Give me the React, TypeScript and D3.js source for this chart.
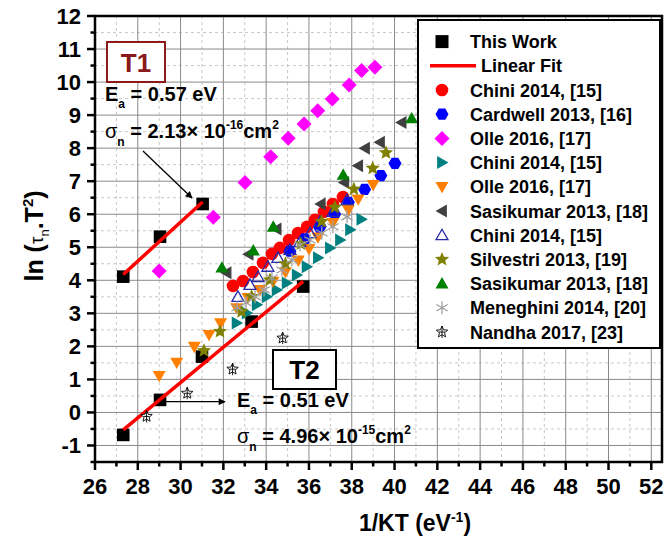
import React from 'react';
import * as d3 from 'd3';

const W = 667, H = 538;
const PL = 95, PR = 662, PT = 16, PB = 462;
const xDomain: [number, number] = [26, 52.5];
const yDomain: [number, number] = [-1.5, 12];
const xTickValues = [26, 28, 30, 32, 34, 36, 38, 40, 42, 44, 46, 48, 50, 52];
const yTickValues = [-1, 0, 1, 2, 3, 4, 5, 6, 7, 8, 9, 10, 11, 12];

// This work (two traps)
const thisWorkT1 = [[27.32, 4.11], [29.04, 5.32], [31.03, 6.31]];
const thisWorkT2 = [[27.32, -0.68], [29.04, 0.38], [31.0, 1.69], [33.32, 2.75], [35.73, 3.81]];

// Literature data
const chiniCircles = [[32.45, 3.83], [32.92, 3.98], [33.38, 4.25], [33.85, 4.53], [34.27, 4.8], [34.64, 4.98], [35.07, 5.22], [35.49, 5.43], [35.91, 5.62], [36.28, 5.83], [36.7, 6.07], [37.12, 6.31], [37.59, 6.52]];
const cardwellHex = [[35.11, 4.88], [35.8, 5.25], [36.5, 5.6], [37.2, 6.0], [37.84, 6.36], [38.6, 6.75], [39.36, 7.17], [40.02, 7.54]];
const olleDiamonds = [[29.0, 4.28], [31.53, 5.91], [33.01, 6.96], [34.21, 7.74], [35.03, 8.3], [35.77, 8.73], [36.41, 9.13], [37.09, 9.49], [37.88, 9.91], [38.46, 10.35], [39.08, 10.45]];
const chiniRightTri = [[32.62, 2.71], [33.09, 3.01], [33.56, 3.26], [34.02, 3.5], [34.49, 3.71], [34.96, 3.92], [35.43, 4.16], [35.89, 4.41], [36.42, 4.68], [36.98, 4.98], [37.45, 5.22], [37.92, 5.53], [38.45, 5.85]];
const olleDownTri = [[29.0, 1.11], [29.82, 1.51], [30.64, 1.99], [31.33, 2.35], [31.87, 2.7], [32.62, 3.16], [33.15, 3.47], [33.71, 3.71], [34.32, 3.96], [34.9, 4.25], [35.5, 4.6], [36.0, 4.95], [36.42, 5.3], [37.12, 5.74], [37.84, 6.13], [38.3, 6.45], [39.0, 6.89]];
const sasikumarLeftTri = [[32.15, 4.23], [33.18, 4.79], [34.49, 5.55], [36.55, 6.31], [37.65, 6.96], [38.3, 7.47], [38.62, 8.0], [39.32, 8.18], [40.33, 8.78]];
const chiniOpenTri = [[32.68, 3.5], [33.24, 3.86], [33.62, 4.1], [34.08, 4.41], [34.55, 4.68], [35.11, 4.92], [35.58, 5.16], [36.05, 5.43], [36.51, 5.77], [37.12, 6.07], [37.78, 6.43]];
const silvestriStars = [[31.09, 1.87], [31.84, 2.45], [32.85, 3.05], [33.32, 3.51], [34.18, 4.01], [34.9, 4.5], [35.62, 5.1], [36.59, 5.78], [37.21, 6.21], [38.1, 6.76], [38.98, 7.39], [39.6, 7.86]];
const sasikumarUpTri = [[31.93, 4.38], [33.4, 4.9], [34.33, 5.62], [37.6, 7.19], [40.8, 8.9]];
const meneghiniAsterisk = [[32.64, 3.17], [33.06, 3.32], [33.48, 3.5], [33.9, 3.71], [34.27, 4.07], [34.74, 4.31], [35.2, 4.62], [35.58, 5.07], [36.05, 5.22], [36.6, 5.43], [37.12, 5.62], [37.78, 5.92]];
const nandhaStars = [[28.41, -0.12], [30.31, 0.58], [32.43, 1.31], [34.77, 2.25]];

type Shape = 'square' | 'circle' | 'hexagon' | 'diamond' | 'triRight' | 'triDown' | 'triLeft' | 'triUp' | 'star' | 'asterisk' | 'openStar';

interface Series { name: string; shape: Shape; fill: string; stroke: string; data: number[][]; r: number; }

const seriesList: Series[] = [
  { name: 'Chini 2014, [15]', shape: 'circle', fill: '#FF0000', stroke: 'none', data: chiniCircles, r: 6.3 },
  { name: 'Cardwell 2013, [16]', shape: 'hexagon', fill: '#0000FF', stroke: 'none', data: cardwellHex, r: 6.5 },
  { name: 'Olle 2016, [17]', shape: 'diamond', fill: '#FF00FF', stroke: 'none', data: olleDiamonds, r: 7.5 },
  { name: 'Chini 2014, [15]', shape: 'triRight', fill: '#008080', stroke: 'none', data: chiniRightTri, r: 6.5 },
  { name: 'Olle 2016, [17]', shape: 'triDown', fill: '#FF8000', stroke: 'none', data: olleDownTri, r: 6.5 },
  { name: 'Sasikumar 2013, [18]', shape: 'triLeft', fill: '#404040', stroke: 'none', data: sasikumarLeftTri, r: 6.5 },
  { name: 'Chini 2014, [15]', shape: 'triUp', fill: 'none', stroke: '#2A2AA8', data: chiniOpenTri, r: 6 },
  { name: 'Silvestri 2013, [19]', shape: 'star', fill: '#808000', stroke: 'none', data: silvestriStars, r: 7.5 },
  { name: 'Sasikumar 2013, [18]', shape: 'triUp', fill: '#008000', stroke: 'none', data: sasikumarUpTri, r: 6.5 },
  { name: 'Meneghini 2014, [20]', shape: 'asterisk', fill: 'none', stroke: '#A0A0A0', data: meneghiniAsterisk, r: 6.5 },
  { name: 'Nandha 2017, [23]', shape: 'openStar', fill: 'white', stroke: '#000000', data: nandhaStars, r: 6 },
];

function starPath(r: number, inner: number) {
  const pts: string[] = [];
  for (let i = 0; i < 10; i++) {
    const a = -Math.PI / 2 + (i * Math.PI) / 5;
    const rr = i % 2 === 0 ? r : r * inner;
    pts.push(`${(rr * Math.cos(a)).toFixed(2)},${(rr * Math.sin(a)).toFixed(2)}`);
  }
  return 'M' + pts.join('L') + 'Z';
}

function markerPath(shape: Shape, r: number): string {
  switch (shape) {
    case 'square': return `M${-r},${-r}H${r}V${r}H${-r}Z`;
    case 'circle': return `M${r},0A${r},${r} 0 1,1 ${-r},0A${r},${r} 0 1,1 ${r},0Z`;
    case 'hexagon': {
      const p: string[] = [];
      for (let i = 0; i < 6; i++) { const a = (i * Math.PI) / 3; p.push(`${(r * Math.cos(a)).toFixed(2)},${(r * Math.sin(a)).toFixed(2)}`); }
      return 'M' + p.join('L') + 'Z';
    }
    case 'diamond': return `M0,${-r}L${r},0L0,${r}L${-r},0Z`;
    case 'triUp': return `M0,${-r}L${r},${r * 0.75}L${-r},${r * 0.75}Z`;
    case 'triDown': return `M0,${r}L${r},${-r * 0.75}L${-r},${-r * 0.75}Z`;
    case 'triRight': return `M${r},0L${-r * 0.75},${-r}L${-r * 0.75},${r}Z`;
    case 'triLeft': return `M${-r},0L${r * 0.75},${-r}L${r * 0.75},${r}Z`;
    case 'star': return starPath(r, 0.45);
    case 'openStar': return starPath(r, 0.45) + `M0,${-r}V${r}M${-r * 0.5},0H${r * 0.5}`;
    case 'asterisk': {
      let d = '';
      for (let i = 0; i < 3; i++) { const a = Math.PI / 2 + (i * Math.PI) / 3; const dx = r * Math.cos(a), dy = r * Math.sin(a); d += `M${(-dx).toFixed(2)},${(-dy).toFixed(2)}L${dx.toFixed(2)},${dy.toFixed(2)}`; }
      return d;
    }
  }
  return '';
}

function Marker({ s, cx, cy, r }: { s: Series | { shape: Shape; fill: string; stroke: string }; cx: number; cy: number; r: number }) {
  const stroked = s.stroke !== 'none';
  return (
    <path
      transform={`translate(${cx},${cy})`}
      d={markerPath(s.shape, r)}
      fill={s.fill}
      stroke={s.stroke}
      strokeWidth={stroked ? (s.shape === 'openStar' ? 0.9 : 1.3) : 0}
    />
  );
}

function linFit(pts: number[][]) {
  const xs = pts.map(p => p[0]), ys = pts.map(p => p[1]);
  const mx = d3.mean(xs)!, my = d3.mean(ys)!;
  let sxy = 0, sxx = 0;
  pts.forEach(([a, b]) => { sxy += (a - mx) * (b - my); sxx += (a - mx) * (a - mx); });
  const k = sxy / sxx;
  const x0 = d3.min(xs)!, x1 = d3.max(xs)!;
  return [[x0, my + k * (x0 - mx)], [x1, my + k * (x1 - mx)]];
}

const FONT = 'Arial, "Liberation Sans", Helvetica, sans-serif';

export default function App() {
  const x = d3.scaleLinear().domain(xDomain).range([PL, PR]);
  const y = d3.scaleLinear().domain(yDomain).range([PB, PT]);

  const minorX = d3.range(27, 52, 2);
  const majorXGrid = xTickValues.filter(v => v > 26);
  const minorY = d3.range(-0.5, 12, 1);
  const majorYGrid = yTickValues.filter(v => v < 12);

  const fit1 = linFit(thisWorkT1);
  const fit2 = linFit(thisWorkT2);
  const lineGen = d3.line<number[]>().x(d => x(d[0])).y(d => y(d[1]));

  const legendX = 442, legendTextX = 470, legendY0 = 41.6, legendStep = 24.2;

  return (
    <svg width={W} height={H} style={{ position: 'absolute', left: 0, top: 0, background: 'white' }} fontFamily={FONT}>
      <rect x={0} y={0} width={W} height={H} fill="white" />
      <defs>
        <marker id="arrowHead" viewBox="0 0 10 10" refX="9" refY="5" markerWidth="9" markerHeight="7" orient="auto" markerUnits="userSpaceOnUse">
          <path d="M0,0L10,5L0,10Z" fill="black" />
        </marker>
      </defs>

      {/* grid */}
      {minorX.map(v => <line key={'mx' + v} x1={x(v)} x2={x(v)} y1={PT} y2={PB} stroke="#C8C8C8" strokeWidth={1} strokeDasharray="3,3" />)}
      {minorY.map(v => <line key={'my' + v} x1={PL} x2={PR} y1={y(v)} y2={y(v)} stroke="#C8C8C8" strokeWidth={1} strokeDasharray="3,3" />)}
      {majorXGrid.map(v => <line key={'gx' + v} x1={x(v)} x2={x(v)} y1={PT} y2={PB} stroke="#8A8A8A" strokeWidth={1} />)}
      {majorYGrid.map(v => <line key={'gy' + v} x1={PL} x2={PR} y1={y(v)} y2={y(v)} stroke="#8A8A8A" strokeWidth={1} />)}

      {/* frame */}
      <rect x={PL} y={PT} width={PR - PL} height={PB - PT} fill="none" stroke="black" strokeWidth={2.5} />

      {/* ticks */}
      {xTickValues.map(v => <line key={'tx' + v} x1={x(v)} x2={x(v)} y1={PB} y2={PB + 8} stroke="black" strokeWidth={2.5} />)}
      {minorX.map(v => <line key={'tmx' + v} x1={x(v)} x2={x(v)} y1={PB} y2={PB + 4.5} stroke="black" strokeWidth={2.5} />)}
      {yTickValues.map(v => <line key={'ty' + v} x1={PL - 8} x2={PL} y1={y(v)} y2={y(v)} stroke="black" strokeWidth={2.5} />)}
      {d3.range(-1.5, 12, 1).map(v => <line key={'tmy' + v} x1={PL - 4.5} x2={PL} y1={y(v)} y2={y(v)} stroke="black" strokeWidth={2.5} />)}

      {/* tick labels */}
      {xTickValues.map(v => <text key={'lx' + v} x={x(v)} y={494} textAnchor="middle" fontSize={22} fontWeight="bold">{v}</text>)}
      {yTickValues.map(v => <text key={'ly' + v} x={81} y={y(v) + 7.8} textAnchor="end" fontSize={22} fontWeight="bold">{v}</text>)}

      {/* axis titles */}
      <text x={415} y={531} textAnchor="middle" fontSize={23} fontWeight="bold">
        1/KT (eV<tspan dy={-9} fontSize={14}>-1</tspan><tspan dy={9}>)</tspan>
      </text>
      <text transform="translate(43,236) rotate(-90)" textAnchor="middle" fontSize={25} fontWeight="bold">
        ln (<tspan fontSize={19} fontWeight="normal">τ</tspan><tspan dy={6} fontSize={13} fontWeight="normal">n</tspan><tspan dy={-6}>.T</tspan><tspan dy={-10} fontSize={15}>2</tspan><tspan dy={10}>)</tspan>
      </text>

      {/* this work squares */}
      {[...thisWorkT1, ...thisWorkT2].map((d, i) => (
        <Marker key={'tw' + i} s={{ shape: 'square', fill: '#000', stroke: 'none' }} cx={x(d[0])} cy={y(d[1])} r={6.3} />
      ))}
      {/* linear fits on top of squares */}
      <path d={lineGen(fit1) || ''} stroke="#FF0000" strokeWidth={3.5} fill="none" />
      <path d={lineGen(fit2) || ''} stroke="#FF0000" strokeWidth={3.5} fill="none" />

      {/* literature series */}
      {seriesList.map((s, si) => (
        <g key={'s' + si}>
          {s.data.map((d, i) => <Marker key={i} s={s} cx={x(d[0])} cy={y(d[1])} r={s.r} />)}
        </g>
      ))}

      {/* annotations T1 */}
      <rect x={107} y={42} width={58} height={40} fill="white" stroke="#8B1A1A" strokeWidth={2} />
      <text x={136} y={71.5} textAnchor="middle" fontSize={26} fontWeight="bold" fill="#8B1A1A">T1</text>
      <text x={105} y={101} fontSize={20} fontWeight="bold">
        E<tspan dy={7} fontSize={12}>a</tspan><tspan dy={-7}> = 0.57 eV</tspan>
      </text>
      <text x={105} y={138} fontSize={20} fontWeight="bold">
        <tspan fontWeight="normal">σ</tspan><tspan dy={8} fontSize={12}>n</tspan><tspan dy={-8}> = 2.13× 10</tspan><tspan dy={-9} fontSize={12}>-16</tspan><tspan dy={9}>cm</tspan><tspan dy={-9} fontSize={12}>2</tspan>
      </text>
      <line x1={143} y1={151} x2={192} y2={198} stroke="black" strokeWidth={1.3} markerEnd="url(#arrowHead)" />

      {/* annotations T2 */}
      <rect x={273} y={350} width={63} height={39} fill="white" stroke="black" strokeWidth={2} />
      <text x={304.5} y={379} textAnchor="middle" fontSize={26} fontWeight="bold">T2</text>
      <text x={237} y={407} fontSize={20} fontWeight="bold">
        E<tspan dy={7} fontSize={12}>a</tspan><tspan dy={-7}> = 0.51 eV</tspan>
      </text>
      <text x={237} y={443} fontSize={20} fontWeight="bold">
        <tspan fontWeight="normal">σ</tspan><tspan dy={8} fontSize={12}>n</tspan><tspan dy={-8}> = 4.96× 10</tspan><tspan dy={-9} fontSize={12}>-15</tspan><tspan dy={9}>cm</tspan><tspan dy={-9} fontSize={12}>2</tspan>
      </text>
      <line x1={162} y1={401.7} x2={225} y2={401.7} stroke="black" strokeWidth={1.3} markerEnd="url(#arrowHead)" />

      {/* legend */}
      <rect x={418} y={20} width={242} height={328} fill="white" stroke="black" strokeWidth={2} />
      <Marker s={{ shape: 'square', fill: '#000', stroke: 'none' }} cx={legendX} cy={legendY0} r={6.5} />
      <text x={legendTextX} y={legendY0 + 6.5} fontSize={18} fontWeight="bold">This Work</text>
      <line x1={430} x2={476} y1={legendY0 + legendStep} y2={legendY0 + legendStep} stroke="#FF0000" strokeWidth={3.5} />
      <text x={481} y={legendY0 + legendStep + 6.5} fontSize={18} fontWeight="bold">Linear Fit</text>
      {seriesList.map((s, i) => {
        const cy = legendY0 + legendStep * (i + 2);
        return (
          <g key={'lg' + i}>
            <Marker s={s} cx={legendX} cy={cy} r={s.r} />
            <text x={legendTextX} y={cy + 6.5} fontSize={18} fontWeight="bold">{s.name}</text>
          </g>
        );
      })}
    </svg>
  );
}
